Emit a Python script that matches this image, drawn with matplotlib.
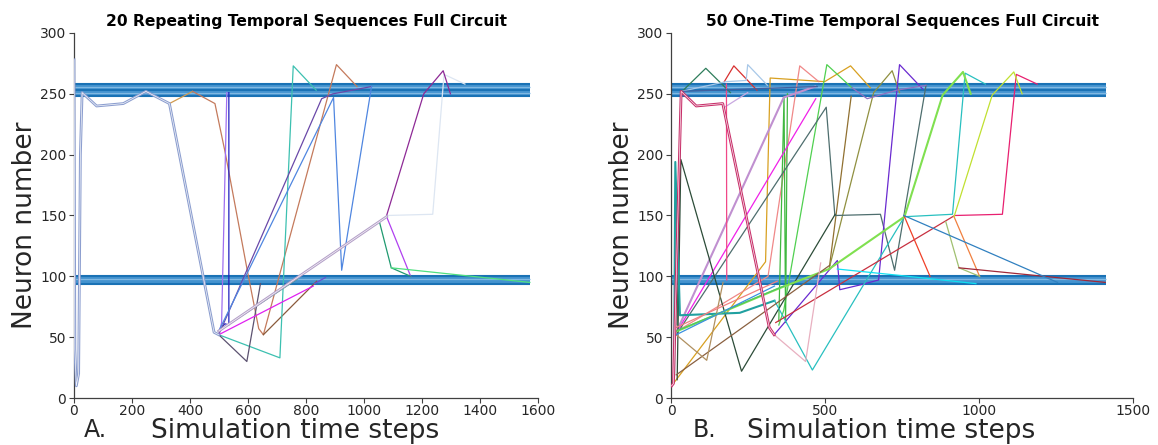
import matplotlib
matplotlib.use("Agg")
import matplotlib.pyplot as plt

# ---------------- data ----------------
# Panel A: 20 repeating temporal sequences
A_times = [
    [0, 3, 8, 16, 22, 28, 78, 170, 248, 329, 483, 499],
    [329, 409],
    [409, 486, 522, 599, 637, 653, 905, 976],
    [653, 837],
    [499, 509, 527],
    [499, 520, 534, 534],
    [499, 710, 756, 835],
    [499, 596, 643],
    [499, 854, 893, 1026],
    [499, 895, 923, 1026],
    [499, 1078],
    [1078, 1237, 1276, 1348],
    [1078, 1206, 1273, 1298],
    [1078, 1161],
    [1053, 1094, 1161],
    [1094, 1572],
    [499, 825],
    [499, 771],
    [829, 867],
]
A_neurons = [
    [278, 40, 10, 20, 200, 251, 240, 242, 252, 242, 54, 52],
    [242, 252],
    [252, 242, 201, 103, 57, 52, 274, 256],
    [52, 96],
    [52, 62, 251],
    [55, 61, 60, 251],
    [52, 33, 273, 253],
    [52, 30, 94],
    [52, 246, 250, 256],
    [55, 247, 105, 256],
    [55, 149],
    [150, 151, 266, 258],
    [150, 250, 269, 250],
    [149, 100],
    [145, 107, 100],
    [107, 95],
    [52, 92],
    [55, 98],
    [94, 99],
]
A_colors = ['#8c9ecf', '#d09a50', '#c47a5c', '#8a5a3a', '#a070f0', '#2020c0',
            '#3cc0b0', '#5c5270', '#6a48a8', '#4f86e0', '#b4a0c8', '#dde6f2',
            '#8e2a96', '#b040f0', '#209a70', '#50e080', '#e020f0', '#30987a',
            '#6a50d0']
A_double = [0, 10]

# Panel B: 50 one-time temporal sequences
B_times = [
    [2, 8, 33, 82, 168, 319, 335],
    [0, 2],
    [20, 32, 113, 193],
    [173, 204, 279],
    [33, 179, 244, 249, 313],
    [2, 307, 322, 499, 583, 647],
    [20, 315, 418, 480],
    [350, 366, 506, 587],
    [350, 367, 372, 378],
    [515, 585],
    [513, 658, 718, 742],
    [17, 504, 532, 680, 726, 828],
    [335, 540, 548, 615, 674, 733, 742, 817],
    [23, 470],
    [17, 366, 468],
    [174, 249],
    [20, 32, 229, 533],
    [10, 14, 29, 223, 336],
    [336, 459, 758, 914, 955, 1021],
    [20, 350, 513, 758, 882, 948, 973],
    [340, 921],
    [921, 1076, 1121, 1189],
    [758, 841],
    [919, 1002],
    [919, 1043, 1113, 1140],
    [892, 935, 1002],
    [935, 1410],
    [756, 1255],
    [540, 733, 990],
    [17, 515],
    [17, 116, 169],
    [335, 437, 486],
    [180, 181],
    [17, 366],
    [17, 336],
    [33, 475],
    [588, 637, 733, 828],
    [17, 345],
]
B_neurons = [
    [10, 12, 252, 240, 242, 58, 52],
    [278, 10],
    [60, 251, 271, 251],
    [260, 273, 253],
    [252, 260, 261, 274, 257],
    [10, 112, 263, 260, 273, 255],
    [55, 100, 273, 260],
    [60, 72, 274, 255],
    [63, 248, 62, 250],
    [109, 248],
    [106, 251, 269, 251],
    [52, 239, 150, 151, 105, 257],
    [52, 113, 89, 93, 97, 252, 274, 254],
    [56, 246],
    [54, 247, 256],
    [239, 251],
    [15, 196, 22, 151],
    [20, 194, 68, 70, 80],
    [80, 23, 149, 151, 267, 258],
    [55, 90, 106, 149, 249, 268, 250],
    [62, 150],
    [150, 151, 266, 258],
    [149, 100],
    [149, 100],
    [149, 249, 268, 250],
    [145, 107, 100],
    [107, 95],
    [150, 95],
    [106, 101, 94],
    [19, 109],
    [52, 31, 95],
    [52, 30, 111],
    [258, 97],
    [55, 92],
    [52, 92],
    [252, 256],
    [255, 246, 253, 257],
    [58, 96],
]
B_colors = ['#c8306a', '#e080c0', '#2e7d5b', '#d83030', '#a8c8e8', '#d8a020',
            '#f08888', '#50d050', '#40b840', '#907030', '#909040', '#4e6e6e',
            '#6a2ad0', '#f020e8', '#c090d0', '#c8a8e0', '#2c4c38', '#20a0a0',
            '#28c0c0', '#80e050', '#c83040', '#e82070', '#f04028', '#f08040',
            '#c0e030', '#a0c070', '#a02838', '#3080c0', '#10e0f0', '#8a6040',
            '#b09060', '#e8b0c0', '#f04888', '#50c860', '#3a90e0', '#4060a0',
            '#9070c0', '#f08080']
B_double = [0]
B_thick = [14, 17, 19]

# Inhibitory / recurrent neuron bands (neuron index ranges)
band_top = (247.8, 258.4)
band_bot = (93.0, 100.4)
A_band_end = 1572
B_band_end = 1412

A_xticks = [0, 200, 400, 600, 800, 1000, 1200, 1400, 1600]
B_xticks = [0, 500, 1000, 1500]
yticks = [0, 50, 100, 150, 200, 250, 300]

TXT = '#262626'
plt.rcParams['font.family'] = ['DejaVu Sans']

fig = plt.figure(figsize=(11.58, 4.45), dpi=100)
axA = fig.add_axes([74 / 1158, 47 / 445, 464 / 1158, 365 / 445])
axB = fig.add_axes([671 / 1158, 47 / 445, 462 / 1158, 365 / 445])


def draw_bands(ax, xend):
    for lo, hi in (band_top, band_bot):
        ax.fill_between([0, xend], [lo, lo], [hi, hi], color='#4493cf', lw=0, zorder=1)
        ax.hlines([hi - 0.5, lo + 0.6], 0, xend, color='#1a72b5', lw=1.5, zorder=1)
        if hi - lo > 8:
            ax.hlines([(lo + hi) / 2], 0, xend, color='#1a72b5', lw=1.4, zorder=1)
            ax.hlines([lo + 2.7, hi - 2.4], 0, xend, color='#80b8e2', lw=0.9, zorder=1)
        else:
            ax.hlines([(lo + hi) / 2 + 1.0], 0, xend, color='#80b8e2', lw=0.9, zorder=1)


def draw_lines(ax, times, neurons, colors, double, thick=()):
    for i, (t, n) in enumerate(zip(times, neurons)):
        if i in double:
            ax.plot(t, n, color=colors[i], lw=2.0, zorder=3)
            ax.plot(t, n, color='white', lw=0.5, zorder=3, alpha=0.9)
        elif i in thick:
            ax.plot(t, n, color=colors[i], lw=1.5, zorder=2)
        else:
            ax.plot(t, n, color=colors[i], lw=0.9, zorder=2)


draw_bands(axA, A_band_end)
draw_bands(axB, B_band_end)
draw_lines(axA, A_times, A_neurons, A_colors, A_double)
draw_lines(axB, B_times, B_neurons, B_colors, B_double, B_thick)

for ax, xt, xmax, title in ((axA, A_xticks, 1600, '20 Repeating Temporal Sequences Full Circuit'),
                            (axB, B_xticks, 1500, '50 One-Time Temporal Sequences Full Circuit')):
    ax.set_xlim(0, xmax)
    ax.set_ylim(0, 300)
    ax.set_xticks(xt)
    ax.set_yticks(yticks)
    for s in ('top', 'right'):
        ax.spines[s].set_visible(False)
    for s in ('left', 'bottom'):
        ax.spines[s].set_color('#404040')
        ax.spines[s].set_linewidth(0.9)
    ax.tick_params(direction='out', length=3.5, width=0.8, colors='#404040',
                   labelcolor=TXT, labelsize=10, pad=1)
    ax.tick_params(axis='y', pad=2)
    ax.set_title(title, fontsize=11.2, fontweight='bold', color='black', pad=5)
    ax.set_xlabel('Simulation time steps', fontsize=19, color=TXT, labelpad=0)
    ax.set_ylabel('Neuron number', fontsize=19, color=TXT, labelpad=1.5)
    ax.xaxis.label.set_x(0.477)
    ax.yaxis.label.set_y(0.474)

fig.text(84 / 1158, 1 - 430 / 445, 'A.', fontsize=17, color=TXT, va='center', ha='left')
fig.text(693 / 1158, 1 - 430 / 445, 'B.', fontsize=17, color=TXT, va='center', ha='left')

fig.savefig('out.png', dpi=100)
